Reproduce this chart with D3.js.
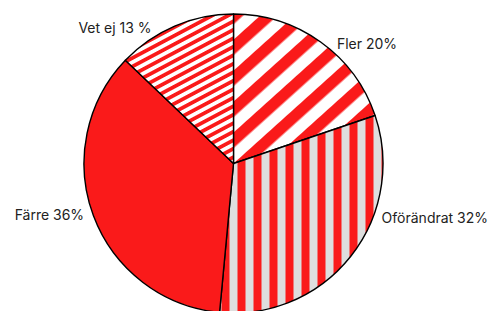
<!DOCTYPE html>
<html>
<head>
<meta charset="utf-8">
<script src="https://cdn.jsdelivr.net/npm/d3@7"></script>
<style>
  html, body { margin: 0; padding: 0; background: #fff; }
  #chart { width: 491px; height: 311px; overflow: hidden; }
  text { font-family: Inter, "Noto Sans", sans-serif; font-size: 14px; fill: #222; }
</style>
</head>
<body>
<div id="chart"></div>
<script>
document.addEventListener("DOMContentLoaded", function() {
    const width = 491, height = 311;
    const red = "#fa1a1a";
    const gray = "#dedede";

    // Data
    const categories = ["Fler", "Oförändrat", "Färre", "Vet ej"];
    const values = [20, 32, 36, 13];
    const labels = ["Fler 20%", "Oförändrat 32%", "Färre 36%", "Vet ej 13 %"];
    const fills = ["url(#diag)", "url(#vert)", red, "url(#thin)"];

    const cx = 233.5, cy = 163.5, radius = 149.5;

    const svg = d3.select("#chart")
        .append("svg")
        .attr("width", width)
        .attr("height", height);

    const defs = svg.append("defs");

    // wide diagonal stripes
    const diag = defs.append("pattern")
        .attr("id", "diag")
        .attr("patternUnits", "userSpaceOnUse")
        .attr("width", 23).attr("height", 23)
        .attr("patternTransform", "rotate(48)");
    diag.append("rect").attr("width", 23).attr("height", 23).attr("fill", "#fff");
    diag.append("rect").attr("width", 11.5).attr("height", 23).attr("fill", red);

    // vertical stripes on gray
    const vert = defs.append("pattern")
        .attr("id", "vert")
        .attr("patternUnits", "userSpaceOnUse")
        .attr("width", 16).attr("height", 16);
    vert.append("rect").attr("width", 16).attr("height", 16).attr("fill", gray);
    vert.append("rect").attr("x", 4).attr("width", 8).attr("height", 16).attr("fill", red);

    // thin diagonal stripes
    const thin = defs.append("pattern")
        .attr("id", "thin")
        .attr("patternUnits", "userSpaceOnUse")
        .attr("width", 7.5).attr("height", 7.5)
        .attr("patternTransform", "rotate(62)");
    thin.append("rect").attr("width", 7.5).attr("height", 7.5).attr("fill", "#fff");
    thin.append("rect").attr("width", 3.75).attr("height", 7.5).attr("fill", red);

    const pie = d3.pie().sort(null).value(d => d)(values);
    const arc = d3.arc().innerRadius(0).outerRadius(radius);

    const g = svg.append("g").attr("transform", `translate(${cx},${cy})`);

    g.selectAll("path.slice")
        .data(pie)
        .enter()
        .append("path")
        .attr("class", "slice")
        .attr("d", arc)
        .attr("fill", (d, i) => fills[i])
        .attr("stroke", "#000")
        .attr("stroke-width", 1.4)
        .attr("stroke-linejoin", "round");

    // labels: placed around the pie, y kept inside the view
    const labelR = radius + 8.5;
    g.selectAll("text.lbl")
        .data(pie)
        .enter()
        .append("text")
        .attr("class", "lbl")
        .each(function(d, i) {
            const mid = (d.startAngle + d.endAngle) / 2;
            let y = -labelR * 0.93 * Math.cos(mid);
            y = Math.min(y, 55);
            const side = Math.sin(mid) >= 0 ? 1 : -1;
            const x = side * Math.sqrt(labelR * labelR - y * y);
            d3.select(this)
                .attr("x", x)
                .attr("y", y)
                .attr("dy", "0.35em")
                .attr("text-anchor", side > 0 ? "start" : "end")
                .text(labels[i]);
        });
});
</script>
</body>
</html>
